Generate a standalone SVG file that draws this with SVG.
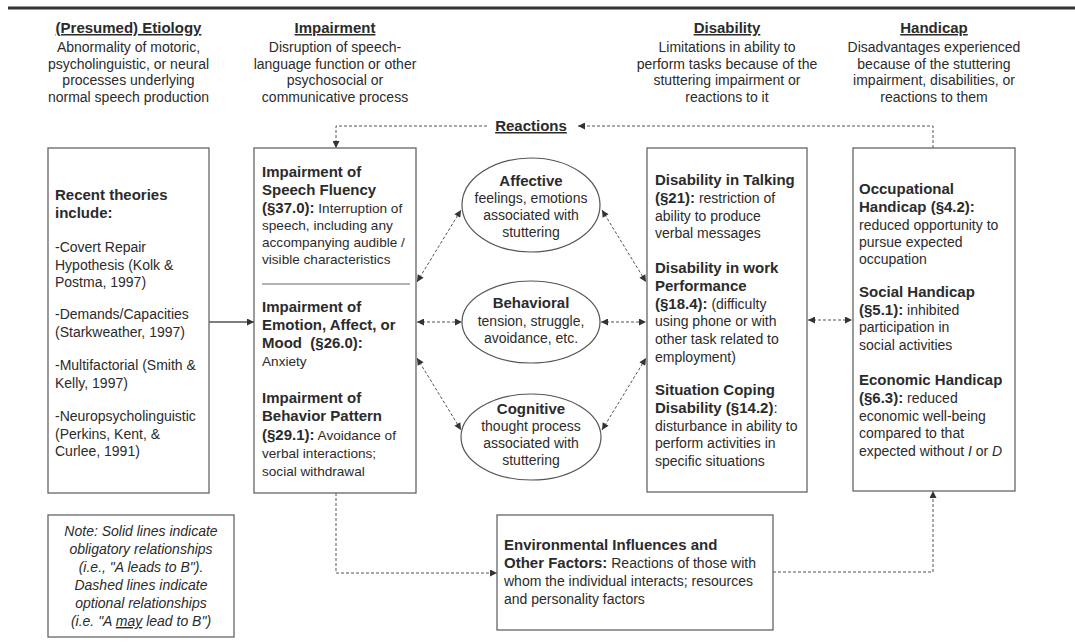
<svg xmlns="http://www.w3.org/2000/svg" width="1075" height="642" viewBox="0 0 1075 642">
<defs>
<marker id="ah" viewBox="0 0 10 10" refX="10" refY="5" markerWidth="8" markerHeight="7" markerUnits="userSpaceOnUse" orient="auto-start-reverse"><path d="M0,0 L10,5 L0,10 z" fill="#333"/></marker>
</defs>
<style>
text{font-family:"Liberation Sans",Arial,sans-serif;fill:#2b2b2b;font-size:14px}
.b{font-weight:bold;font-size:15px}
.h{font-weight:bold;font-size:15px;text-decoration:underline}
.c{text-anchor:middle}
.s{font-size:13.6px}
.i{font-style:italic}
.box{fill:#fff;stroke:#666;stroke-width:1.3}
.ell{fill:#fff;stroke:#555;stroke-width:1.2}
.dash{fill:none;stroke:#555;stroke-width:1;stroke-dasharray:3 2}
.solid{fill:none;stroke:#555;stroke-width:1.3}
</style>
<rect width="1075" height="642" fill="#fff"/>
<line x1="8" y1="8" x2="1075" y2="8" stroke="#333" stroke-width="3"/>

<g id="header-etiology">
<text x="128.5" y="33" class="h c">(Presumed) Etiology</text>
<text x="128.5" y="52" class="c">Abnormality of motoric,</text>
<text x="128.5" y="68.5" class="c">psycholinguistic, or neural</text>
<text x="128.5" y="85" class="c">processes underlying</text>
<text x="128.5" y="101.5" class="c">normal speech production</text>
</g>
<g id="header-impairment">
<text x="335" y="33" class="h c">Impairment</text>
<text x="335" y="52" class="c">Disruption of speech-</text>
<text x="335" y="68.5" class="c">language function or other</text>
<text x="335" y="85" class="c">psychosocial or</text>
<text x="335" y="101.5" class="c">communicative process</text>
</g>
<g id="header-disability">
<text x="727" y="33" class="h c">Disability</text>
<text x="727" y="52" class="c">Limitations in ability to</text>
<text x="727" y="68.5" class="c">perform tasks because of the</text>
<text x="727" y="85" class="c">stuttering impairment or</text>
<text x="727" y="101.5" class="c">reactions to it</text>
</g>
<g id="header-handicap">
<text x="934" y="33" class="h c">Handicap</text>
<text x="934" y="52" class="c">Disadvantages experienced</text>
<text x="934" y="68.5" class="c">because of the stuttering</text>
<text x="934" y="85" class="c">impairment, disabilities, or</text>
<text x="934" y="101.5" class="c">reactions to them</text>
</g>

<g id="reactions">
<text x="531" y="131" class="h c">Reactions</text>
</g>

<g id="connectors">
<line x1="209" y1="322" x2="254" y2="322" class="solid" marker-end="url(#ah)"/>
<path d="M933,148 V126 H578" class="dash" marker-end="url(#ah)"/>
<path d="M487,126 H336 V148" class="dash" marker-end="url(#ah)"/>
<path d="M336,493 V573 H497" class="dash" marker-end="url(#ah)"/>
<path d="M773,572 H933 V491" class="dash" marker-end="url(#ah)"/>
<line x1="417" y1="282" x2="461" y2="210" class="dash" marker-start="url(#ah)" marker-end="url(#ah)"/>
<line x1="417" y1="322" x2="462" y2="322" class="dash" marker-start="url(#ah)" marker-end="url(#ah)"/>
<line x1="417" y1="358" x2="461" y2="430" class="dash" marker-start="url(#ah)" marker-end="url(#ah)"/>
<line x1="602" y1="210" x2="646" y2="282" class="dash" marker-start="url(#ah)" marker-end="url(#ah)"/>
<line x1="601" y1="322" x2="646" y2="322" class="dash" marker-start="url(#ah)" marker-end="url(#ah)"/>
<line x1="602" y1="430" x2="646" y2="358" class="dash" marker-start="url(#ah)" marker-end="url(#ah)"/>
<line x1="808" y1="320" x2="852" y2="320" class="dash" marker-start="url(#ah)" marker-end="url(#ah)"/>
</g>

<g id="etiology">
<rect x="48" y="148" width="161" height="345" class="box"/>
<text x="55" y="200" class="b">Recent theories</text>
<text x="55" y="218" class="b">include:</text>
<text x="55" y="252">-Covert Repair</text>
<text x="55" y="269.5">Hypothesis (Kolk &amp;</text>
<text x="55" y="287">Postma, 1997)</text>
<text x="55" y="319">-Demands/Capacities</text>
<text x="55" y="337">(Starkweather, 1997)</text>
<text x="55" y="370">-Multifactorial (Smith &amp;</text>
<text x="55" y="388">Kelly, 1997)</text>
<text x="55" y="421">-Neuropsycholinguistic</text>
<text x="55" y="438.5">(Perkins, Kent, &amp;</text>
<text x="55" y="456">Curlee, 1991)</text>
</g>

<g id="impairment">
<rect x="254" y="148" width="162" height="345" class="box"/>
<text x="262" y="177" class="b">Impairment of</text>
<text x="262" y="195" class="b">Speech Fluency</text>
<text x="262" y="212.5" class="s"><tspan class="b">(§37.0):</tspan> Interruption of</text>
<text x="262" y="230" class="s">speech, including any</text>
<text x="262" y="247" class="s">accompanying audible /</text>
<text x="262" y="264" class="s">visible characteristics</text>
<line x1="262" y1="284" x2="410" y2="284" stroke="#666" stroke-width="1.2"/>
<text x="262" y="312" class="b">Impairment of</text>
<text x="262" y="330" class="b">Emotion, Affect, or</text>
<text x="262" y="348" class="b">Mood&#160; (§26.0):</text>
<text x="262" y="366" class="s">Anxiety</text>
<text x="262" y="403" class="b">Impairment of</text>
<text x="262" y="421" class="b">Behavior Pattern</text>
<text x="262" y="439.5" class="s"><tspan class="b">(§29.1):</tspan> Avoidance of</text>
<text x="262" y="457.5" class="s">verbal interactions;</text>
<text x="262" y="475.5" class="s">social withdrawal</text>
</g>

<g id="affective">
<ellipse cx="531" cy="205" rx="69" ry="47" class="ell"/>
<text x="531" y="186" class="b c">Affective</text>
<text x="531" y="203" class="c">feelings, emotions</text>
<text x="531" y="220" class="c">associated with</text>
<text x="531" y="237" class="c">stuttering</text>
</g>
<g id="behavioral">
<ellipse cx="531" cy="322" rx="69" ry="41" class="ell"/>
<text x="531" y="308" class="b c">Behavioral</text>
<text x="531" y="326" class="c">tension, struggle,</text>
<text x="531" y="343" class="c">avoidance, etc.</text>
</g>
<g id="cognitive">
<ellipse cx="531" cy="437" rx="70" ry="43" class="ell"/>
<text x="531" y="414" class="b c">Cognitive</text>
<text x="531" y="431" class="c">thought process</text>
<text x="531" y="448" class="c">associated with</text>
<text x="531" y="465" class="c">stuttering</text>
</g>

<g id="disability">
<rect x="647" y="148" width="160" height="344" class="box"/>
<text x="655" y="185" class="b">Disability in Talking</text>
<text x="655" y="203"><tspan class="b">(§21):</tspan> restriction of</text>
<text x="655" y="220.5">ability to produce</text>
<text x="655" y="238">verbal messages</text>
<text x="655" y="273" class="b">Disability in work</text>
<text x="655" y="291" class="b">Performance</text>
<text x="655" y="308.5"><tspan class="b">(§18.4):</tspan> (difficulty</text>
<text x="655" y="326">using phone or with</text>
<text x="655" y="344">other task related to</text>
<text x="655" y="361.5">employment)</text>
<text x="655" y="395" class="b">Situation Coping</text>
<text x="655" y="413" class="b">Disability (§14.2)<tspan font-weight="normal">:</tspan></text>
<text x="655" y="430.5">disturbance in ability to</text>
<text x="655" y="448">perform activities in</text>
<text x="655" y="466">specific situations</text>
</g>

<g id="handicap">
<rect x="853" y="148" width="162" height="343" class="box"/>
<text x="859" y="194" class="b">Occupational</text>
<text x="859" y="212" class="b">Handicap (§4.2):</text>
<text x="859" y="229.5">reduced opportunity to</text>
<text x="859" y="247">pursue expected</text>
<text x="859" y="264">occupation</text>
<text x="859" y="297" class="b">Social Handicap</text>
<text x="859" y="315"><tspan class="b">(§5.1):</tspan> inhibited</text>
<text x="859" y="332">participation in</text>
<text x="859" y="349.5">social activities</text>
<text x="859" y="385" class="b">Economic Handicap</text>
<text x="859" y="403"><tspan class="b">(§6.3):</tspan> reduced</text>
<text x="859" y="420.5">economic well-being</text>
<text x="859" y="438">compared to that</text>
<text x="859" y="455.5">expected without <tspan class="i">I</tspan> or <tspan class="i">D</tspan></text>
</g>

<g id="environment">
<rect x="497" y="515" width="276" height="115" class="box"/>
<text x="504" y="550" class="b">Environmental Influences and</text>
<text x="504" y="568"><tspan class="b">Other Factors:</tspan> Reactions of those with</text>
<text x="504" y="586">whom the individual interacts; resources</text>
<text x="504" y="603.5">and personality factors</text>
</g>

<g id="note">
<rect x="48" y="515" width="186" height="122" class="box"/>
<text x="141" y="536" class="i c">Note: Solid lines indicate</text>
<text x="141" y="554" class="i c">obligatory relationships</text>
<text x="141" y="572" class="i c">(i.e., "A leads to B").</text>
<text x="141" y="590" class="i c">Dashed lines indicate</text>
<text x="141" y="608" class="i c">optional relationships</text>
<text x="141" y="626" class="i c">(i.e. "A <tspan text-decoration="underline">may</tspan> lead to B")</text>
</g>
</svg>
